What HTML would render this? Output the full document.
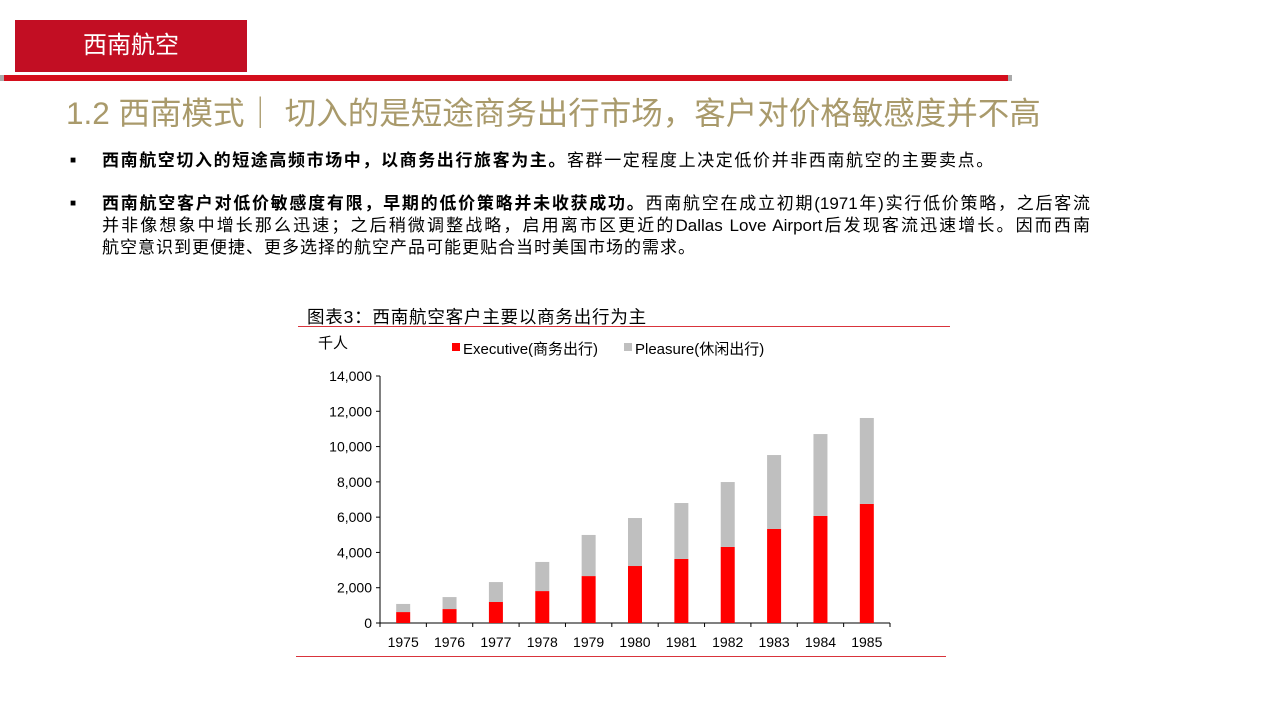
<!DOCTYPE html>
<html><head><meta charset="utf-8">
<style>
body{margin:0;width:1279px;height:719px;background:#fff;position:relative;overflow:hidden;font-family:"Liberation Sans","Noto Sans CJK SC",sans-serif;}
.abs{position:absolute;}
.ln{white-space:nowrap;height:22px;}
.j{text-align:justify;text-align-last:justify;}
</style></head><body>
<div class="abs" style="left:15px;top:20px;width:232px;height:52px;background:#c20e23;color:#fff;font-size:24px;line-height:52px;text-align:center;">西南航空</div>
<div class="abs" style="left:0;top:75px;width:1012px;height:6px;background:#d40e1c;border-left:4px solid #aaa;border-right:4px solid #aaa;box-sizing:border-box;"></div>
<div class="abs" style="left:66px;top:88px;font-size:31.5px;color:#a99a6b;white-space:nowrap;">1.2 西南模式｜ 切入的是短途商务出行市场，客户对价格敏感度并不高</div>
<div class="abs" style="left:70px;top:150px;font-size:17px;color:#000;width:1030px;line-height:22px;"><span style="position:absolute;left:0;font-size:10px;">■</span><div class="ln" style="margin-left:32px;letter-spacing:1.6px;"><b>西南航空切入的短途高频市场中，以商务出行旅客为主。</b>客群一定程度上决定低价并非西南航空的主要卖点。</div></div>
<div class="abs" style="left:70px;top:193px;font-size:17px;color:#000;line-height:22px;"><span style="position:absolute;left:0;font-size:10px;">■</span>
<div style="margin-left:32px;width:988px;">
<div class="ln j"><b>西南航空客户对低价敏感度有限，早期的低价策略并未收获成功。</b>西南航空在成立初期(1971年)实行低价策略，之后客流</div>
<div class="ln j">并非像想象中增长那么迅速；之后稍微调整战略，启用离市区更近的Dallas Love Airport后发现客流迅速增长。因而西南</div>
<div class="ln" style="letter-spacing:1px;">航空意识到更便捷、更多选择的航空产品可能更贴合当时美国市场的需求。</div>
</div></div>
<div class="abs" style="left:307px;top:304px;font-size:17.5px;letter-spacing:0.8px;color:#000;white-space:nowrap;">图表3：西南航空客户主要以商务出行为主</div>
<div class="abs" style="left:298px;top:326px;width:652px;height:1px;background:#d9343c;"></div>
<div class="abs" style="left:296px;top:656px;width:650px;height:1px;background:#d9343c;"></div>
<svg class="abs" style="left:0;top:0" width="1279" height="719" id="chart"></svg>
<script>
const years=["1975","1976","1977","1978","1979","1980","1981","1982","1983","1984","1985"];
const executive=[620,790,1190,1810,2660,3230,3630,4310,5330,6070,6750];
const pleasure=[460,680,1130,1650,2330,2720,3170,3680,4190,4640,4870];
const yTicks=[0,2000,4000,6000,8000,10000,12000,14000];
const svg=document.getElementById('chart');const NS='http://www.w3.org/2000/svg';
const y0=623,y1=376,x0=380,x1=890;
const y=v=>y0-(v/14000)*(y0-y1);
const step=(x1-x0)/years.length;const xc=i=>x0+step*(i+0.5);
function mk(t,a,txt){const e=document.createElementNS(NS,t);for(const k in a)e.setAttribute(k,a[k]);if(txt!==undefined)e.textContent=txt;svg.appendChild(e);return e;}
const f='Liberation Sans, Noto Sans CJK SC, sans-serif';
let e=mk('line',{x1:x0,y1:y1,x2:x0,y2:y0,stroke:'#000'});

e=mk('line',{x1:x0,y1:y0,x2:x1,y2:y0,stroke:'#000'});

yTicks.forEach(t=>{
 mk('line',{x1:x0-4,y1:y(t),x2:x0,y2:y(t),stroke:'#000'});
 e=mk('text',{x:x0-8,y:y(t)+5,'text-anchor':'end','font-size':14,'font-family':f},t.toLocaleString('en-US'));
 
});
for(let i=0;i<=years.length;i++)mk('line',{x1:x0+step*i,y1:y0,x2:x0+step*i,y2:y0+4,stroke:'#000'});
years.forEach((yr,i)=>{
 const w=14,cx=xc(i);
 e=mk('rect',{x:cx-w/2,y:y(executive[i]),width:w,height:y0-y(executive[i]),fill:'#ff0000'});
 
 e=mk('rect',{x:cx-w/2,y:y(executive[i]+pleasure[i]),width:w,height:y(executive[i])-y(executive[i]+pleasure[i]),fill:'#bfbfbf'});
 
 e=mk('text',{x:cx,y:y0+24,'text-anchor':'middle','font-size':14,'font-family':f},yr);
 
});
e=mk('text',{x:318,y:348,'font-size':15,'font-family':f},'千人');

mk('rect',{x:452,y:343,width:8,height:8,fill:'#ff0000'});
e=mk('text',{x:463,y:354,'font-size':15,'font-family':f},'Executive(商务出行)');

mk('rect',{x:624,y:343,width:8,height:8,fill:'#bfbfbf'});
e=mk('text',{x:635,y:354,'font-size':15,'font-family':f},'Pleasure(休闲出行)');

</script>
</body></html>
